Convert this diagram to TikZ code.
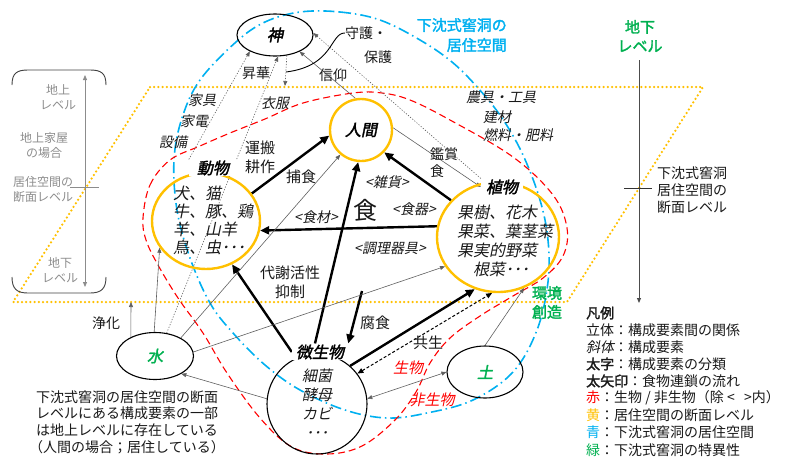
\documentclass[tikz,border=0pt]{standalone}
\usepackage{fontspec}
\setmainfont{Noto Sans CJK JP}
\newfontfamily\jpi{Noto Sans CJK JP}[FakeSlant=0.2]
\newfontfamily\jpb{Noto Sans CJK JP}[FakeBold=2]
\newfontfamily\jpbi{Noto Sans CJK JP}[FakeBold=2,FakeSlant=0.2]
\usetikzlibrary{arrows.meta,shapes.geometric}
\pgfdeclarelayer{bg}
\pgfsetlayers{bg,main}
\newcommand\fsz[2]{\fontsize{#1}{#2}\selectfont}
\definecolor{cyanB}{RGB}{0,176,240}
\definecolor{yel}{RGB}{255,192,0}
\definecolor{grn}{RGB}{0,176,80}
\definecolor{redC}{RGB}{255,0,0}
\definecolor{ink}{RGB}{25,25,25}
\definecolor{gtext}{RGB}{140,140,140}
\definecolor{lgray}{RGB}{95,95,95}
\tikzset{
  tUp/.style={inner sep=0pt,text=ink,font=\fsz{14}{17}},
  tIt/.style={inner sep=0pt,text=ink,font=\fsz{14}{17}\jpi},
  tMid/.style={inner sep=0pt,text=ink,font=\fsz{15}{19}},
  tHd/.style={inner sep=1pt,text=black,font=\fsz{16}{19}\jpbi},
  tGray/.style={inner sep=0pt,text=gtext,font=\fsz{12}{15},align=center},
  tGrn/.style={inner sep=0pt,text=grn,font=\fsz{15}{19}\jpb,align=center},
  orc/.style={draw=yel,line width=2.4pt,inner sep=0pt},
  blk/.style={draw=black,line width=1.1pt,inner sep=0pt},
  fat/.style={draw=black,line width=2.4pt,-{Triangle[length=9pt,width=8pt]}},
  fine/.style={draw=lgray,line width=0.6pt,-{Triangle[length=5pt,width=4pt]}},
  dotl/.style={fine,dash pattern=on 1.2pt off 1.6pt},
}
\begin{document}
\begin{tikzpicture}[x=1pt,y=-1pt]
\useasboundingbox (0,0) rectangle (790,456);

% ---------- main nodes ----------
\node[blk,ellipse,minimum width=76pt,minimum height=42pt,font=\fsz{16}{19}\jpbi] (kami) at (275,35) {神};
\node[orc,circle,minimum size=62pt,font=\fsz{16}{19}\jpbi] (ningen) at (361,130) {人間};
\node[orc,ellipse,minimum width=108pt,minimum height=96pt] (dob) at (206,221) {};
\node[orc,ellipse,minimum width=122pt,minimum height=110pt] (sho) at (498,237) {};
\node[blk,circle,minimum size=100pt] (bise) at (317,404) {};
\node[blk,ellipse,minimum width=77pt,minimum height=47pt,text=grn,font=\fsz{16}{19}\jpbi] (mizu) at (155,356) {水};
\node[blk,ellipse,minimum width=76pt,minimum height=52pt,text=grn,font=\fsz{16}{19}\jpbi] (tsuchi) at (485,372) {土};

% headings with white background
\node[tHd,fill=white,inner xsep=8pt] (dobh) at (213,168) {動物};
\node[tHd,fill=white,inner xsep=5pt] (shoh) at (502,187) {植物};
\node[tHd,fill=white,inner xsep=4pt] (bish) at (320,352) {微生物};

% contents
\node[inner sep=0pt,text=ink,font=\fsz{16}{18.3}\jpi,align=left,anchor=west] (dobl) at (173,220.5) {犬、猫\\牛、豚、鶏\\羊、山羊\\鳥、虫･･･};
\node[inner sep=0pt,text=ink,font=\fsz{16}{19}\jpi,align=left,anchor=west] (shol) at (457,240.5) {果樹、花木\\果菜、葉茎菜\\果実的野菜\\\hspace*{16pt}根菜･･･};
\node[inner sep=0pt,text=ink,font=\fsz{15}{19}\jpi,align=center] (bisl) at (317,404) {細菌\\酵母\\カビ\\･･･};

% ---------- labels ----------
\node[tUp] (shoka) at (256,73) {昇華};
\node[tUp] (shinko) at (333,75) {信仰};
\node[tUp] (shugo1) at (366,33) {守護・};
\node[tUp] (shugo2) at (378,57) {保護};
\node[tIt] (ifuku) at (275,103) {衣服};
\node[tIt] (kagu) at (202,100) {家具};
\node[tIt] (kaden) at (194,121) {家電};
\node[tIt] (setsubi) at (173,142) {設備};
\node[tMid,align=center] (unpan) at (260,157.5) {運搬\\耕作};
\node[tMid] (hoshoku) at (301,177) {捕食};
\node[tIt] (nougu) at (501,97) {農具・工具};
\node[tIt] (kenzai) at (497,117) {建材};
\node[tIt] (nenryo) at (518,135) {燃料・肥料};
\node[tUp,align=left,anchor=west] (kansho) at (430,162.5) {鑑賞\\食};
\node[tIt] (zakka) at (387,182) {<雑貨>};
\node[inner sep=0pt,text=ink,font=\fsz{24}{28}] (shoku) at (365,210) {食};
\node[tIt] (shokki) at (414,209) {<食器>};
\node[tIt] (shokuzai) at (316,217) {<食材>};
\node[tIt] (chouri) at (390,248) {<調理器具>};
\node[tMid,align=center,font=\fsz{15}{19}] (taisha) at (290,282.5) {代謝活性\\抑制};
\node[tMid] (fushoku) at (375,323) {腐食};
\node[tMid] (kyosei) at (428,343) {共生};
\node[inner sep=0pt,text=redC,font=\fsz{15}{19}\jpi] (seibutsu) at (408,368) {生物};
\node[inner sep=0pt,text=redC,font=\fsz{15}{19}\jpi] (hiseibutsu) at (432,400) {非生物};
\node[tUp] (jouka) at (106,323) {浄化};
\node[tUp,align=center,font=\fsz{14}{16.7}] (note) at (127,422) {下沈式窖洞の居住空間の断面\\レベルにある構成要素の一部\\は地上レベルに存在している\\（人間の場合；居住している）};

\node[inner sep=0pt,text=cyanB,font=\fsz{15}{20}\jpb,align=right,anchor=east] (kuukan) at (507,35) {下沈式窖洞の\\居住空間};
\node[tGrn] (chika) at (640,36) {地下\\レベル};
\node[tGrn] (kankyo) at (547,302.5) {環境\\創造};
\node[tUp,align=left,anchor=west,text=ink] (dankai) at (657,190) {下沈式窖洞\\居住空間の\\断面レベル};

\node[tGray] (g1) at (58,97.5) {地上\\レベル};
\node[tGray] (g2) at (44,145) {地上家屋\\の場合};
\node[tGray] (g3) at (43,189.5) {居住空間の\\断面レベル};
\node[tGray] (g4) at (60,270.5) {地下\\レベル};

% legend
\node[tUp,anchor=west,font=\fsz{14}{17}\jpb] (lg0) at (586,313) {凡例};
\node[tUp,anchor=west] (lg1) at (586,330) {立体：構成要素間の関係};
\node[tUp,anchor=west] (lg2) at (586,347) {{\jpi 斜体}：構成要素};
\node[tUp,anchor=west] (lg3) at (586,364) {{\jpb 太字}：構成要素の分類};
\node[tUp,anchor=west] (lg4) at (586,381) {{\jpb 太矢印}：食物連鎖の流れ};
\node[tUp,anchor=west] (lg5) at (586,398) {{\color{redC}赤}：生物 / 非生物（除 <\,\,\,\,>内）};
\node[tUp,anchor=west] (lg6) at (586,415.5) {{\color{yel}黄}：居住空間の断面レベル};
\node[tUp,anchor=west] (lg7) at (586,432.5) {{\color{cyanB}青}：下沈式窖洞の居住空間};
\node[tUp,anchor=west] (lg8) at (586,450) {{\color{grn}緑}：下沈式窖洞の特異性};

% free-end coordinates
\coordinate (fsStart) at (362,291);
\coordinate (joukaEnd) at (131,302);
\coordinate (shugoEnd) at (285,86);
\coordinate (shugoHook) at (286,72);
\coordinate (lvTop) at (85,75);
\coordinate (lvBot) at (85,287);
\coordinate (rvTop) at (639,60);
\coordinate (rvBot) at (639,303);

\begin{pgfonlayer}{bg}
% yellow plane
\draw[yel,line width=2.5pt,dash pattern=on 0pt off 4.2pt,line cap=round]
  (150,87) -- (703,87) -- (567,302) -- (13,302) -- cycle;
% blue living space
\draw[cyanB,line width=1.6pt,dash pattern=on 11pt off 4pt on 1.5pt off 4pt]
  plot[smooth cycle,tension=0.6] coordinates {(300,12) (340,12) (380,20) (420,40) (452,62) (478,88) (502,118) (523,155) (540,200) (548,240) (548,282) (537,330) (513,372) (473,400) (427,413) (387,418) (345,410) (300,390) (265,365) (233,333) (210,303) (190,258) (177,210) (174,160) (182,118) (200,80) (236,42) (265,22)};
% red boundary
\draw[redC,line width=1.1pt,dash pattern=on 7pt off 4pt]
  plot[smooth cycle,tension=0.6] coordinates {(143,218) (150,185) (170,160) (200,146) (230,133) (265,119) (303,103) (353,93) (382,93) (410,100) (450,120) (513,157) (553,195) (567,228) (563,256) (543,278) (513,296) (480,316) (450,338) (430,363) (416,392) (395,420) (362,446) (327,454) (292,447) (260,418) (227,373) (203,333) (178,298) (158,265) (146,240)};

% level scales
\draw[gtext,line width=0.8pt,{Triangle[length=5pt,width=4pt]}-{Triangle[length=5pt,width=4pt]}] (lvTop) -- (lvBot);
\draw[gtext,line width=0.8pt] (70,187) -- (99,187);
\draw[black!75,line width=0.9pt] (12,85) .. controls (12,73) and (17,70) .. (28,70) -- (90,70) .. controls (101,70) and (106,73) .. (106,85);
\draw[black!75,line width=0.9pt] (12,277) .. controls (12,289) and (17,293) .. (28,293) -- (90,293) .. controls (101,293) and (106,289) .. (106,277);
\draw[black!70,line width=0.9pt,-{Triangle[length=5pt,width=4pt]}] (rvTop) -- (rvBot);
\draw[black!80,line width=0.9pt] (624,188) -- (652,188);

% thick arrows (food chain)
\draw[fat] (dob.31) -- (ningen.190);
\draw[fat] (sho.142) -- (ningen.316);
\draw[fat] (sho.170) -- (dob.350);
\draw[fat] ([xshift=-5pt]bish.north) -- (ningen.265);
\draw[fat] (bish.west) -- (dob.301);
\draw[fat] (bise.49.5) -- (sho.246);
\draw[fat] (fsStart) -- (bish.north east);
\draw[black,line width=1pt,dash pattern=on 3pt off 2pt,{Triangle[length=6pt,width=5pt]}-{Triangle[length=6pt,width=5pt]}] (bise.37) -- (sho.264);

% thin relations
\draw[fine,{Triangle[length=5pt,width=4pt]}-{Triangle[length=5pt,width=4pt]}] (tsuchi.180) -- (bise.6);
\draw[fine] (tsuchi.90) -- (sho.297);
\draw[fine] (bise.174) -- (mizu.326);
\draw[fine] (mizu.35) -- (ningen.230);
\draw[fine] (mizu.6) -- (sho.209);
\draw[fine] (mizu.92) -- (dob.210);
\draw[fine] (mizu.142) -- (joukaEnd);
\draw[dotl] (mizu.63) -- (kami.278);
\draw[dotl] (dobh.north west) -- (kami.213);
\draw[fine] (ningen.100) -- (kami.326);
\draw[dotl] (shoh.north west) -- (kami.3);
\draw[fine] (ningen.4) -- (shoh.west);
\draw[dotl] (kami.300) -- (shugoEnd);
\draw[black,line width=0.9pt] (shugo1.west) .. controls (330,33) and (334,66) .. (shugoHook);
\end{pgfonlayer}
\end{tikzpicture}
\end{document}
